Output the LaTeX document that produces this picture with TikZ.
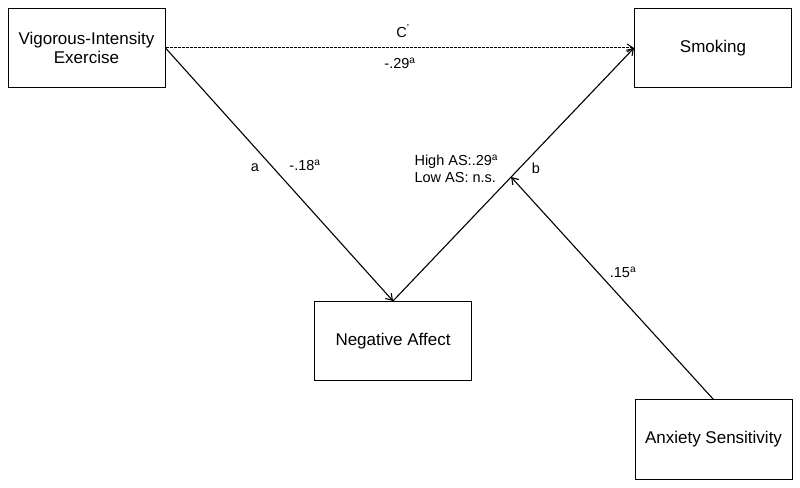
\documentclass[tikz,border=0pt]{standalone}
\usepackage{fontspec}
\setmainfont{Liberation Sans}
\usetikzlibrary{positioning,arrows.meta}

\tikzset{
  varbox/.style={draw, line width=1pt, minimum width=157pt, minimum height=79pt,
    inner sep=0pt, align=center, font=\fontsize{17}{19.5}\selectfont},
  coef/.style={font=\fontsize{14.5}{17}\selectfont, inner sep=0pt}
}

\begin{document}
\begin{tikzpicture}[>={Straight Barb[length=6pt,width=8pt]},x=1pt,y=1pt,line width=1.1pt]
    \useasboundingbox (0,0) rectangle (800,487);
    % variables
    \node[varbox] (vie) at (86.5,439) {Vigorous-Intensity\\Exercise};
    \node[varbox] (smk) at (713,439) {Smoking};
    \node[varbox] (neg) at (393,146) {Negative Affect};
    \node[varbox] (anx) at (713.5,47.5) {Anxiety Sensitivity};
    % paths
    \draw[->,dash pattern=on 3pt off 1pt,line width=1pt] (vie.east) -- (smk.west);
    \draw[->] (vie.east) -- (neg.north);
    \draw[->] (neg.north) -- (smk.west) coordinate[pos=0.49] (bmid);
    \draw[->] (anx.north) -- (bmid);
    % coefficients
    \node[coef] (cp) at (403,456) {C\textsuperscript{’}};
    \node[coef] (cval) at (400,424) {-.29\textsuperscript{a}};
    \node[coef] (alab) at (255,319) {a};
    \node[coef] (aval) at (305,322) {-.18\textsuperscript{a}};
    \node[coef,anchor=west,align=left] (bval) at (414,318) {High AS:.29\textsuperscript{a}\\Low AS: n.s.};
    \node[coef] (blab) at (536,319) {b};
    \node[coef] (mval) at (623,215) {.15\textsuperscript{a}};
\end{tikzpicture}
\end{document}
